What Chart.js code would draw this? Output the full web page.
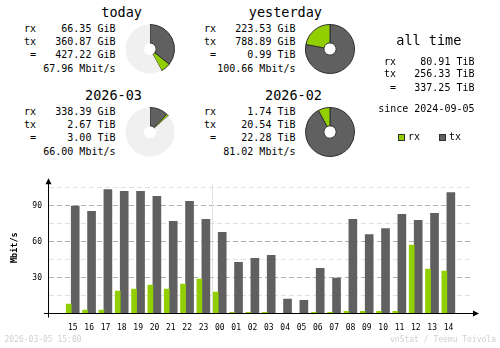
<!DOCTYPE html>
<html lang="en">
  <head>
    <meta charset="UTF-8" />
    <meta name="viewport" content="width=device-width, initial-scale=1.0" />
    <title>vnStat summary</title>
    <style>
      body {
        margin: 0;
        background: #fff;
      }
      #wrap {
        position: relative;
        width: 500px;
        height: 348px;
        overflow: hidden;
        font-family: "DejaVu Sans Mono", monospace;
        color: #000;
      }
      .t {
        position: absolute;
        white-space: pre;
        line-height: 1.2;
      }
      canvas {
        position: absolute;
      }
      .box {
        position: absolute;
        width: 7px;
        height: 7px;
        box-sizing: border-box;
        border: 1px solid #303030;
      }
    </style>
  </head>
  <body>
    <div id="wrap">
      <canvas id="hourChart" width="500" height="178" style="left: 0; top: 170px"></canvas>
    </div>
    <script src="https://cdn.jsdelivr.net/npm/chart.js"></script>
    <script>
      // summary blocks (as printed by vnstati)
      const periods = ["today", "yesterday", "2026-03", "2026-02"];
      const rxText = ["66.35 GiB", "223.53 GiB", "338.39 GiB", "1.74 TiB"];
      const txText = ["360.87 GiB", "788.89 GiB", "2.67 TiB", "20.54 TiB"];
      const totalText = ["427.22 GiB", "0.99 TiB", "3.00 TiB", "22.28 TiB"];
      const rateText = ["67.96 Mbit/s", "100.66 Mbit/s", "66.00 Mbit/s", "81.02 Mbit/s"];

      const allTimeText = ["80.91 TiB", "256.33 TiB", "337.25 TiB"];
      const sinceText = "since 2024-09-05";

      // hourly average rate, Mbit/s
      const hours = ["15", "16", "17", "18", "19", "20", "21", "22", "23", "00", "01", "02",
                     "03", "04", "05", "06", "07", "08", "09", "10", "11", "12", "13", "14"];
      const rxRate = [7.9, 2.9, 2.9, 18.8, 20.4, 23.8, 20.4, 24.6, 28.8, 17.9, 1, 1,
                      1, 0, 0, 1, 1, 1.8, 1.8, 1.8, 1.8, 57.1, 37.1, 35.4];
      const txRate = [89.7, 85.3, 103.6, 102, 102, 97.8, 77, 93.6, 78.6, 67.8, 42.8, 46,
                      48.6, 12, 11, 37.8, 29.5, 78.6, 66, 71, 82.8, 77.8, 83.6, 101];
      const yTicks = [30, 60, 90];

      const RX = "#92cf00";
      const TX = "#606060";
      const MONO = "DejaVu Sans Mono";
      const wrap = document.getElementById("wrap");

      function toGiB(s) {
        const n = parseFloat(s);
        return s.indexOf("TiB") >= 0 ? n * 1024 : n;
      }

      // text helper: x is left / right / centre, y is the baseline
      function addText(str, x, base, size, align, color) {
        const d = document.createElement("div");
        d.className = "t";
        d.textContent = str;
        d.style.fontSize = size + "px";
        d.style.top = base - 0.946 * size + "px";
        if (color) d.style.color = color;
        if (align === "right") {
          d.style.right = 500 - x + "px";
        } else if (align === "center") {
          d.style.left = x - 100 + "px";
          d.style.width = "200px";
          d.style.textAlign = "center";
        } else {
          d.style.left = x + "px";
        }
        wrap.appendChild(d);
      }

      // four period blocks with their pies
      const offsets = [[0, 0], [180, 0], [0, 83], [180, 83]];
      const sums = periods.map((p, i) => toGiB(rxText[i]) + toGiB(txText[i]));
      periods.forEach((p, i) => {
        const [dx, dy] = offsets[i];
        addText(p, 142 + dx, 16.5 + dy, 13.5, "right");
        const labels = ["rx", "tx", " ="];
        const vals = [rxText[i], txText[i], totalText[i]];
        const bases = [32.7, 45, 58.7];
        labels.forEach((l, j) => {
          addText(l, 24 + dx, bases[j] + dy, 10, "left");
          addText(vals[j], 115.5 + dx, bases[j] + dy, 10, "right");
        });
        addText(rateText[i], 115.5 + dx, 72.7 + dy, 10, "right");

        // pie is scaled against the bigger of the two periods in the row
        const pair = i < 2 ? [sums[0], sums[1]] : [sums[2], sums[3]];
        const full = Math.max(...pair);
        const cv = document.createElement("canvas");
        cv.width = 50;
        cv.height = 50;
        cv.style.left = 125 + dx + "px";
        cv.style.top = 24 + dy + "px";
        wrap.appendChild(cv);
        new Chart(cv, {
          type: "doughnut",
          data: {
            labels: ["tx", "rx", ""],
            datasets: [
              {
                data: [toGiB(txText[i]), toGiB(rxText[i]), full - sums[i]],
                backgroundColor: [TX, RX, "#f0f0f0"],
                borderColor: ["#303030", "#303030", "#f0f0f0"],
                borderWidth: [1, 1, 0],
              },
            ],
          },
          options: {
            responsive: false,
            animation: false,
            events: [],
            cutout: "25%",
            plugins: { legend: { display: false }, tooltip: { enabled: false } },
          },
        });
      });

      // all time block
      addText("all time", 428.8, 44.3, 13.5, "center");
      ["rx", "tx", " ="].forEach((l, j) => {
        const base = [65.7, 77.7, 91.7][j];
        addText(l, 384, base, 10, "left");
        addText(allTimeText[j], 474.5, base, 10, "right");
      });
      addText(sinceText, 474.5, 112, 10, "right");

      // legend
      [["rx", RX, 398], ["tx", TX, 439]].forEach(([name, col, x]) => {
        const b = document.createElement("div");
        b.className = "box";
        b.style.left = x + "px";
        b.style.top = "134px";
        b.style.background = col;
        wrap.appendChild(b);
        addText(name, x + 10, 140.5, 10, "left");
      });

      // footer
      addText("2026-03-05 15:00", 4.5, 342.5, 8, "left", "#d0d0d0");
      addText("vnStat / Teemu Toivola", 496, 342.5, 8, "right", "#d0d0d0");

      // axis lines, arrows and the day separator
      const axisLines = {
        id: "axisLines",
        beforeDatasetsDraw(chart) {
          const { ctx, chartArea, scales } = chart;
          const sx = Math.round(scales.x.getPixelForValue(hours.indexOf("00") - 0.41)) + 0.5;
          ctx.save();
          ctx.strokeStyle = "#e0e0e0";
          ctx.lineWidth = 1;
          ctx.beginPath();
          ctx.moveTo(sx, chartArea.top + 2.5);
          ctx.lineTo(sx, chartArea.bottom);
          ctx.stroke();
          ctx.restore();
        },
        afterDatasetsDraw(chart) {
          const { ctx, chartArea } = chart;
          const ax = 48.5;
          const ay = chartArea.bottom;
          ctx.save();
          ctx.strokeStyle = "#000";
          ctx.fillStyle = "#000";
          ctx.lineWidth = 1;
          ctx.beginPath();
          ctx.moveTo(ax, chartArea.top - 0.5);
          ctx.lineTo(ax, ay + 4);
          ctx.moveTo(44, ay);
          ctx.lineTo(chartArea.right, ay);
          ctx.stroke();
          ctx.beginPath();
          ctx.moveTo(ax, chartArea.top - 3.5);
          ctx.lineTo(ax - 3, chartArea.top + 2.5);
          ctx.lineTo(ax + 3, chartArea.top + 2.5);
          ctx.closePath();
          ctx.fill();
          ctx.beginPath();
          ctx.moveTo(chartArea.right + 6, ay);
          ctx.lineTo(chartArea.right, ay - 3);
          ctx.lineTo(chartArea.right, ay + 3);
          ctx.closePath();
          ctx.fill();
          ctx.restore();
        },
      };

      new Chart(document.getElementById("hourChart"), {
        type: "bar",
        data: {
          datasets: [
            {
              label: "rx",
              data: rxRate.map((v, i) => ({ x: i, y: v })),
              backgroundColor: RX,
              barThickness: 5,
            },
            {
              label: "tx",
              data: txRate.map((v, i) => ({ x: i, y: v })),
              backgroundColor: TX,
              barThickness: 8,
            },
          ],
        },
        options: {
          responsive: false,
          animation: false,
          events: [],
          layout: { padding: { top: 11.5, right: 27, left: 0, bottom: 0 } },
          plugins: { legend: { display: false }, tooltip: { enabled: false } },
          scales: {
            x: {
              type: "linear",
              min: -0.82,
              max: 24.06,
              grid: { display: false },
              border: { display: false },
              afterBuildTicks: (s) => {
                s.ticks = hours.map((h, i) => ({ value: i + 0.1 }));
              },
              afterFit: (s) => {
                s.height = 34.5;
              },
              ticks: {
                autoSkip: false,
                maxRotation: 0,
                padding: 2,
                color: "#000",
                font: { family: MONO, size: 8 },
                callback: (v) => hours[Math.round(v)],
              },
            },
            y: {
              min: 0,
              max: 110,
              afterFit: (s) => {
                s.width = 49;
              },
              border: { display: false, dash: [5, 3] },
              grid: {
                drawTicks: false,
                color: (c) => (c.tick.value % 30 === 0 ? "#b0b0b0" : "#e0e0e0"),
              },
              ticks: {
                stepSize: 15,
                includeBounds: false,
                padding: 7,
                color: "#000",
                font: { family: MONO, size: 8 },
                callback: (v) => (yTicks.includes(v) ? v : ""),
              },
              title: {
                display: true,
                text: "Mbit/s",
                color: "#000",
                padding: { top: 9.6 },
                font: { family: MONO, size: 8.5, weight: "bold" },
              },
            },
          },
        },
        plugins: [axisLines],
      });
    </script>
  </body>
</html>
